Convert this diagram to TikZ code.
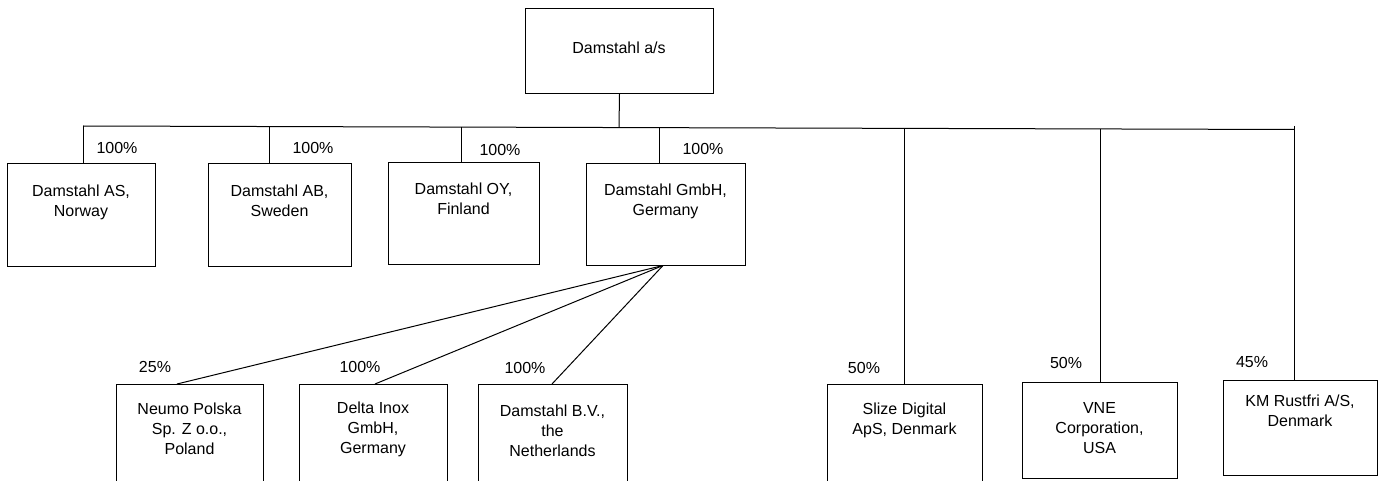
\documentclass[tikz,border=0pt]{standalone}
\usepackage{fontspec}
\setmainfont{Liberation Sans}
\usetikzlibrary{calc}
\tikzset{
  box/.style={draw=black, line width=1pt, inner sep=0pt, anchor=north west, rectangle},
  txt/.style={anchor=north, inner sep=0pt, align=center, font=\fontsize{16}{20}\selectfont},
  pct/.style={inner sep=0pt, font=\fontsize{16}{20}\selectfont},
  link/.style={draw=black, line width=1pt},
}
\newcommand{\fl}{\rule{0pt}{12pt}}
\begin{document}
\begin{tikzpicture}[x=1pt,y=-1pt]
\useasboundingbox (0,0) rectangle (1387,481);
\clip (0,0) rectangle (1387,481);
% top
\node[box, minimum width=188pt, minimum height=85pt] (top) at (525,8) {};
\node[txt] (toptxt) at (619,41) {\fl Damstahl a/s};
% bus
\coordinate (busL) at (83,126);
\coordinate (busR) at (1294,129.5);
\draw[link] (busL) -- (busR);
\coordinate (btop) at (619,127);
\draw[link] (top.south) -- (btop);
% first row
\node[box, minimum width=148pt, minimum height=103pt] (nor) at (7,163) {};
\node[box, minimum width=143pt, minimum height=103pt] (swe) at (208,163) {};
\node[box, minimum width=151pt, minimum height=102pt] (fin) at (388,162) {};
\node[box, minimum width=159pt, minimum height=102pt] (ger) at (586,163) {};
\node[txt] (nortxt) at (81,184) {\fl Damstahl AS,\\Norway};
\node[txt] (swetxt) at (279.5,184) {\fl Damstahl AB,\\Sweden};
\node[txt] (fintxt) at (463.5,182) {\fl Damstahl OY,\\Finland};
\node[txt] (gertxt) at (665.5,183) {\fl Damstahl GmbH,\\Germany};
\coordinate (b1) at (83,126);
\coordinate (b2) at (269,126.5);
\coordinate (b3) at (461,127);
\coordinate (b4) at (659,127.5);
\draw[link] (b1) -- (b1 |- nor.north);
\draw[link] (b2) -- (b2 |- swe.north);
\draw[link] (b3) -- (b3 |- fin.north);
\draw[link] (b4) -- (b4 |- ger.north);
\node[pct] (p1) at (117,148) {100\%};
\node[pct] (p2) at (313,148) {100\%};
\node[pct] (p3) at (500,150) {100\%};
\node[pct] (p4) at (703,149) {100\%};
% german subsidiaries
\node[box, minimum width=147pt, minimum height=97.5pt] (neu) at (116,384) {};
\node[box, minimum width=148pt, minimum height=97.5pt] (del) at (299,384) {};
\node[box, minimum width=149pt, minimum height=97.5pt] (net) at (478,384) {};
\node[txt] (neutxt) at (189.5,402) {\fl Neumo Polska\\Sp. Z o.o.,\\Poland};
\node[txt] (deltxt) at (373,401) {\fl Delta Inox\\GmbH,\\Germany};
\node[txt] (nettxt) at (552.5,404) {\fl Damstahl B.V.,\\the\\Netherlands};
\coordinate (gc) at (663,265.5);
\coordinate (neuin) at (177,384);
\coordinate (delin) at (375,384);
\coordinate (netin) at (552,384);
\draw[link] (gc) -- (neuin);
\draw[link] (gc) -- (delin);
\draw[link] (gc) -- (netin);
\node[pct] (p5) at (155,367) {25\%};
\node[pct] (p6) at (360,367) {100\%};
\node[pct] (p7) at (525,368) {100\%};
% associates
\node[box, minimum width=155pt, minimum height=97.5pt] (sli) at (827,384) {};
\node[box, minimum width=155pt, minimum height=96pt] (vne) at (1022,382) {};
\node[box, minimum width=154pt, minimum height=95pt] (kmr) at (1223,380) {};
\node[txt] (slitxt) at (904.5,402) {\fl Slize Digital\\ApS, Denmark};
\node[txt] (vnetxt) at (1099.5,401) {\fl VNE\\Corporation,\\USA};
\node[txt] (kmrtxt) at (1300,394) {\fl KM Rustfri A/S,\\Denmark};
\coordinate (b5) at (904,128.5);
\coordinate (b6) at (1100,129);
\coordinate (b7) at (1294,126);
\draw[link] (b5) -- (b5 |- sli.north);
\draw[link] (b6) -- (b6 |- vne.north);
\draw[link] (b7) -- (b7 |- kmr.north);
\node[pct] (p8) at (864,368) {50\%};
\node[pct] (p9) at (1066,363) {50\%};
\node[pct] (p10) at (1252,362) {45\%};
\end{tikzpicture}
\end{document}
